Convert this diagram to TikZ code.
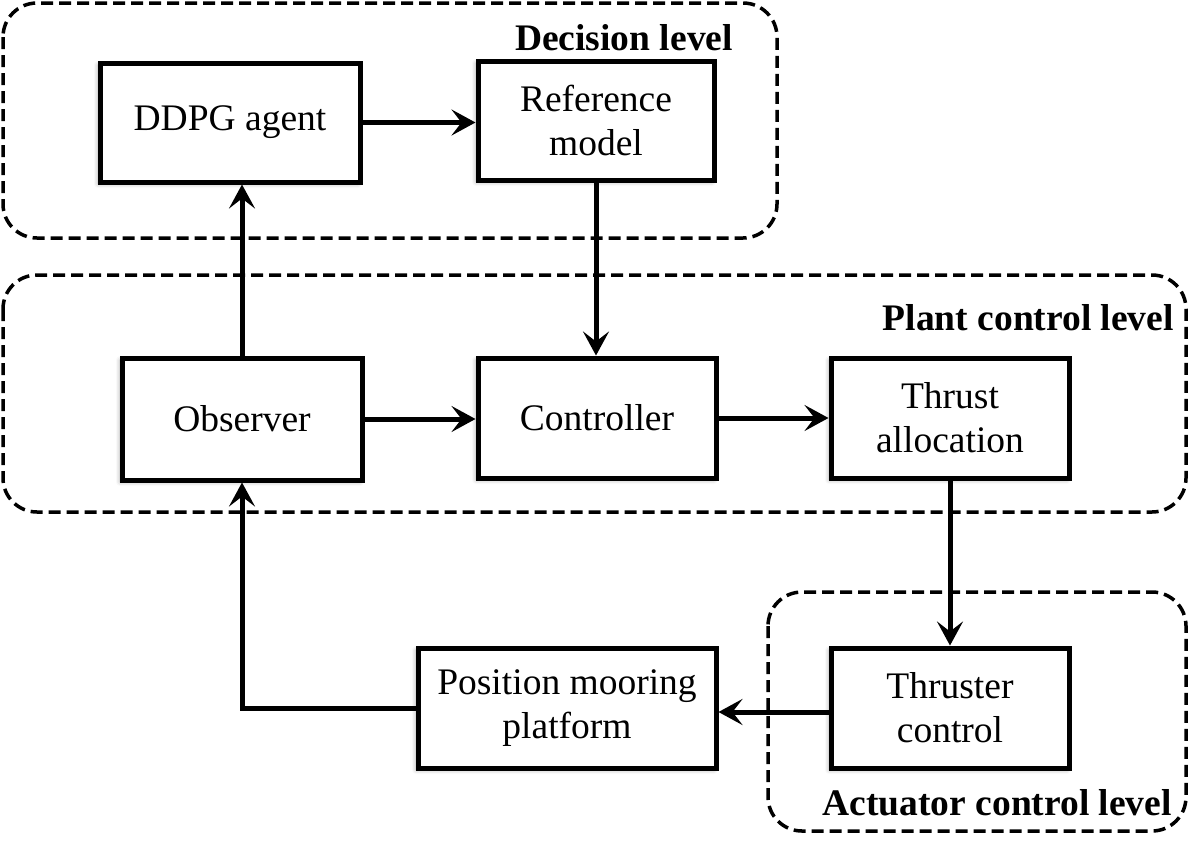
\documentclass[tikz,border=0pt]{standalone}
\usepackage{fontspec}
\setmainfont{Liberation Serif}
\usetikzlibrary{arrows.meta,shadows.blur}
\tikzset{
  blockbox/.style={draw=black, line width=5pt, fill=white, align=center, inner sep=0pt,
    font=\fontsize{37.5}{44}\selectfont,
    blur shadow={shadow xshift=-2pt, shadow yshift=-2pt, shadow blur radius=4pt, shadow opacity=35}},
  levelbox/.style={draw=black, line width=3.5pt, dash pattern=on 12pt off 6pt, rounded corners=34pt},
  levellabel/.style={font=\fontsize{37.5}{44}\selectfont\bfseries, inner sep=0pt, anchor=base east},
  flow/.style={line width=5pt, line join=miter, -{Stealth[length=24pt, width=26pt, inset=10pt]}}
}
\begin{document}
\begin{tikzpicture}[x=1pt,y=-1pt]
\useasboundingbox (0,0) rectangle (1199,849);
% level frames
\draw[levelbox] (3,3) rectangle (777,238);
\draw[levelbox] (3,275) rectangle (1186,512);
\draw[levelbox] (768,592) rectangle (1186,831);
\node[levellabel] (ldec) at (733,50) {Decision level};
\node[levellabel] (lplant) at (1174,330) {Plant control level};
\node[levellabel] (lact) at (1172,815) {Actuator control level};
% blocks
\node[blockbox, minimum width=260pt, minimum height=119pt] (ddpg) at (230,122.5) {DDPG agent};
\node[blockbox, minimum width=236pt, minimum height=119pt] (ref) at (596,120.5) {Reference\\model};
\node[blockbox, minimum width=240pt, minimum height=122pt] (obs) at (242,419) {Observer};
\node[blockbox, minimum width=238pt, minimum height=120pt] (ctrl) at (597,418) {Controller};
\node[blockbox, minimum width=238pt, minimum height=120pt] (ta) at (950,418) {Thrust\\allocation};
\node[blockbox, minimum width=238pt, minimum height=120pt] (tc) at (950,708) {Thruster\\control};
\node[blockbox, minimum width=298pt, minimum height=120pt] (pm) at (567,708) {Position mooring\\platform};
\coordinate (corner) at (obs.south |- pm.west);
% connectors
\draw[flow] (ddpg.east) -- (ref.west |- ddpg.east);
\draw[flow] (obs.north) -- (obs.north |- ddpg.south);
\draw[flow] (ref.south) -- (ref.south |- ctrl.north);
\draw[flow] (obs.east) -- (ctrl.west |- obs.east);
\draw[flow] (ctrl.east) -- (ta.west |- ctrl.east);
\draw[flow] (ta.south) -- (tc.north);
\draw[flow] ([yshift=-4pt]tc.west) -- ([yshift=-4pt]pm.east);
\draw[flow] (pm.west) -- (corner) -- (obs.south);
\end{tikzpicture}
\end{document}
